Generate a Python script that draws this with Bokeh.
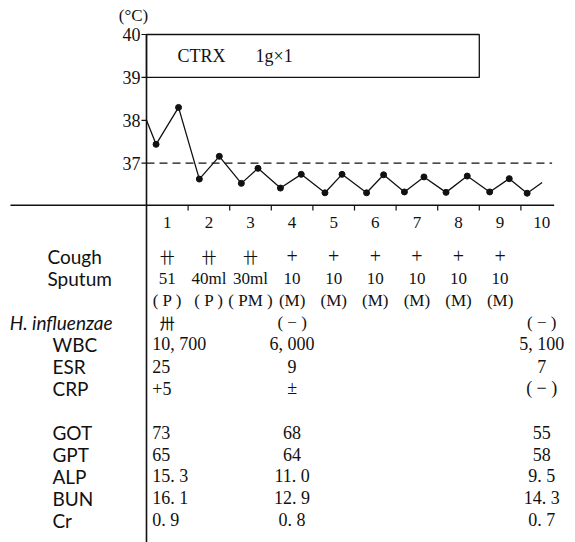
from bokeh.plotting import figure
from bokeh.models import Range1d
from bokeh.core.properties import value
from bokeh.embed import file_html
from bokeh.resources import INLINE

# ---------------- data ----------------
temp_x = [0.0, 0.23, 0.77, 1.27, 1.75, 2.28, 2.68, 3.22, 3.72, 4.29, 4.70,
          5.29, 5.70, 6.20, 6.67, 7.20, 7.71, 8.25, 8.72, 9.15, 9.51]
temp_c = [38.0, 37.44, 38.3, 36.63, 37.16, 36.53, 36.88, 36.42, 36.74, 36.31, 36.74,
          36.31, 36.73, 36.33, 36.68, 36.32, 36.70, 36.33, 36.64, 36.30, 36.55]
normal_temp = 37.0
temp_ticks = [37, 38, 39, 40]

drug_label = "CTRX"
drug_dose = "1g\u00d71"
drug_start, drug_end = 0, 8

days = [1, 2, 3, 4, 5, 6, 7, 8, 9, 10]
cough_days = [1, 2, 3, 4, 5, 6, 7, 8, 9]
cough = ["\u5344", "\u5344", "\u5344", "+", "+", "+", "+", "+", "+"]
sputum_vol = ["51", "40ml", "30ml", "10", "10", "10", "10", "10", "10"]
sputum_type = ["( P )", "( P )", "( PM )", "(M)", "(M)", "(M)", "(M)", "(M)", "(M)"]

lab_days = [1, 4, 10]
h_influenzae = ["\u5345", "( \u2212 )", "( \u2212 )"]
lab_names = ["WBC", "ESR", "CRP", "GOT", "GPT", "ALP", "BUN", "Cr"]
lab_rows = [4, 5, 6, 8, 9, 10, 11, 12]
lab_values = [
    ["10, 700", "6, 000", "5, 100"],
    ["25", "9", "7"],
    ["+5", "\u00b1", "( \u2212 )"],
    ["73", "68", "55"],
    ["65", "64", "58"],
    ["15. 3", "11. 0", "9. 5"],
    ["16. 1", "12. 9", "14. 3"],
    ["0. 9", "0. 8", "0. 7"],
]

# ---------------- figure ----------------
SERIF = value("Liberation Serif")
SANS = value("Lato")
CJK = value("Noto Sans CJK JP")
INK = "#111111"
T_BOTTOM = 28.1585

p = figure(width=575, height=542,
           x_range=Range1d(-3.5096, 10.3125), y_range=Range1d(T_BOTTOM, 40.7925),
           output_backend="svg", toolbar_location=None, min_border=0,
           x_axis_location=None, y_axis_location=None)
p.grid.grid_line_color = None
p.outline_line_color = None
p.background_fill_color = "white"
p.border_fill_color = "white"
p.extra_y_ranges = {"row": Range1d(start=13.0, end=-11.636)}

# axes drawn by hand
p.segment(x0=[0], y0=[temp_ticks[-1]], x1=[0], y1=[T_BOTTOM], line_color=INK, line_width=1.6)
p.segment(x0=[-3.27], y0=[36.02], x1=[9.8], y1=[36.02], line_color=INK, line_width=1.6)
p.segment(x0=[-0.12] * len(temp_ticks), y0=temp_ticks, x1=[0] * len(temp_ticks), y1=temp_ticks,
          line_color=INK, line_width=1.2)
p.segment(x0=days[:-1], y0=[36.02] * 9, x1=days[:-1], y1=[35.9] * 9, line_color=INK, line_width=1.2)

p.text(x=[-0.144] * len(temp_ticks), y=temp_ticks, text=[str(t) for t in temp_ticks],
       text_font=SERIF, text_font_size="18px", text_align="right", text_baseline="middle",
       text_color=INK)
p.text(x=[-0.3125], y=[40.443], text=["(\u00b0C)"], text_font=SERIF, text_font_size="17px",
       text_align="center", text_baseline="middle", text_color=INK)

# antibiotic box
p.quad(left=[drug_start], right=[drug_end], bottom=[39], top=[40], fill_color=None,
       line_color=INK, line_width=1.3)
p.text(x=[drug_start + 0.745], y=[39.49], text=[drug_label], text_font=SERIF, text_font_size="18px",
       text_align="left", text_baseline="middle", text_color=INK)
p.text(x=[drug_start + 2.62], y=[39.49], text=[drug_dose], text_font=SERIF, text_font_size="18px",
       text_align="left", text_baseline="middle", text_color=INK)

# temperature
p.line(x=[0, 9.75], y=[normal_temp, normal_temp], line_color=INK, line_width=1.2, line_dash="8 5")
p.line(x=temp_x, y=temp_c, line_color=INK, line_width=1.3)
p.scatter(x=temp_x[1:-1], y=temp_c[1:-1], size=6, color=INK)

# day labels
p.text(x=[d - 0.5 for d in days], y=[-1.545] * len(days), text=[str(d) for d in days],
       y_range_name="row", text_font=SERIF, text_font_size="17px", text_align="center",
       text_baseline="middle", text_color=INK)

# row labels
p.text(x=[-2.38, -2.38], y=[0, 1], text=["Cough", "Sputum"], y_range_name="row",
       text_font=SANS, text_font_size="19px", text_align="left", text_baseline="middle",
       text_color=INK)
p.text(x=[-3.29], y=[3], text=["H. influenzae"], y_range_name="row", text_font=SANS,
       text_font_size="19px", text_font_style="italic", text_align="left",
       text_baseline="middle", text_color=INK)
p.text(x=[-2.26] * len(lab_names), y=lab_rows, text=lab_names, y_range_name="row",
       text_font=SANS, text_font_size="19px", text_align="left", text_baseline="middle",
       text_color=INK)

# cough / sputum
sym_idx = [i for i, c in enumerate(cough) if c != "+"]
plus_idx = [i for i, c in enumerate(cough) if c == "+"]
p.text(x=[cough_days[i] - 0.5 for i in sym_idx], y=[0] * len(sym_idx),
       text=[cough[i] for i in sym_idx], y_range_name="row", text_font=CJK,
       text_font_size="15px", text_align="center", text_baseline="middle", text_color=INK)
p.text(x=[cough_days[i] - 0.5 for i in plus_idx], y=[0] * len(plus_idx),
       text=[cough[i] for i in plus_idx], y_range_name="row", text_font=SERIF,
       text_font_size="20px", text_align="center", text_baseline="middle", text_color=INK)
p.text(x=[d - 0.5 for d in cough_days], y=[1] * len(sputum_vol), text=sputum_vol,
       y_range_name="row", text_font=SERIF, text_font_size="17px", text_align="center",
       text_baseline="middle", text_color=INK)
p.text(x=[d - 0.5 for d in cough_days], y=[2] * len(sputum_type), text=sputum_type,
       y_range_name="row", text_font=SERIF, text_font_size="17px", text_align="center",
       text_baseline="middle", text_color=INK)

# H. influenzae
p.text(x=[lab_days[0] - 0.5], y=[3], text=[h_influenzae[0]], y_range_name="row",
       text_font=CJK, text_font_size="15px", text_align="center", text_baseline="middle",
       text_color=INK)
p.text(x=[d - 0.5 for d in lab_days[1:]], y=[3, 3], text=h_influenzae[1:], y_range_name="row",
       text_font=SERIF, text_font_size="17px", text_align="center", text_baseline="middle",
       text_color=INK)

# lab values
first_col = [row[0] for row in lab_values]
p.text(x=[lab_days[0] - 0.86] * len(first_col), y=lab_rows, text=first_col, y_range_name="row",
       text_font=SERIF, text_font_size="18px", text_align="left", text_baseline="middle",
       text_color=INK)
for j in (1, 2):
    col = [row[j] for row in lab_values]
    p.text(x=[lab_days[j] - 0.5] * len(col), y=lab_rows, text=col, y_range_name="row",
           text_font=SERIF, text_font_size="18px", text_align="center", text_baseline="middle",
           text_color=INK)

open("out.html", "w").write(file_html(p, INLINE))
